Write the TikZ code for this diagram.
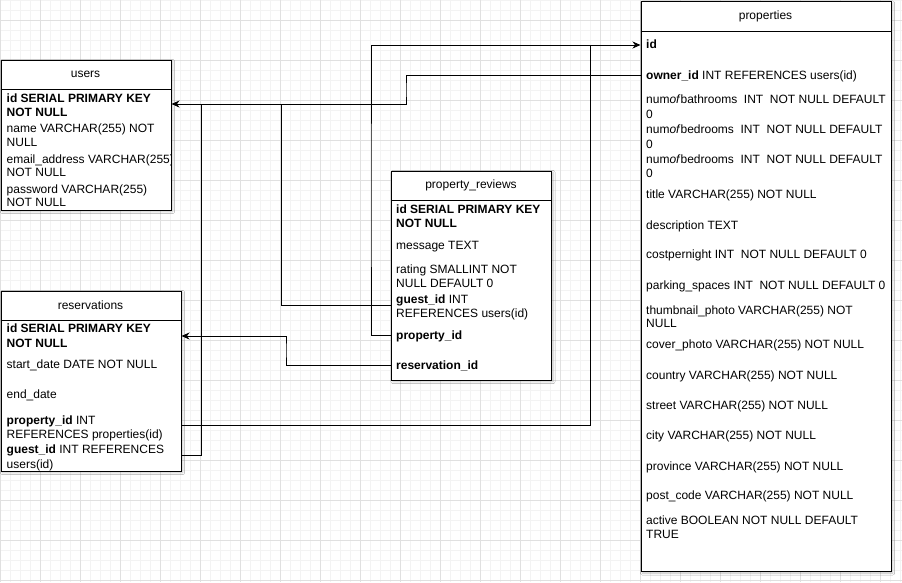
\documentclass[tikz,border=0pt]{standalone}
\usepackage{fontspec}
\setmainfont{Liberation Sans}
\usetikzlibrary{arrows.meta,shadows.blur}
\definecolor{gridminor}{HTML}{F3F3F3}
\definecolor{gridmajor}{HTML}{E0E0E0}
\begin{document}
\begin{tikzpicture}[x=1pt,y=-1pt,
  tbl/.style={draw=black,line width=1pt,fill=white,inner sep=0pt,anchor=north west,
    blur shadow={shadow xshift=1.5pt,shadow yshift=-1.5pt,shadow opacity=25,shadow blur steps=4}},
  hdr/.style={inner sep=0pt,anchor=center,font=\fontsize{12}{14}\selectfont},
  row/.style={inner sep=0pt,anchor=west,font=\fontsize{12}{14}\selectfont,text height=9.5pt,text depth=1pt},
  conn/.style={draw=black,line width=1pt},
  arr/.style={conn,-{Stealth[length=8pt,width=7pt,inset=2.5pt]}},
]
\useasboundingbox (0,0) rectangle (902,582);
\fill[white] (0,0) rectangle (902,582);
% grid
\foreach \x in {0,10,...,900} \draw[gridminor,line width=1pt] (\x,0) -- (\x,582);
\foreach \y in {0,10,...,580} \draw[gridminor,line width=1pt] (0,\y) -- (902,\y);
\foreach \x in {0,40,...,880} \draw[gridmajor,line width=1pt] (\x,0) -- (\x,582);
\foreach \y in {20,60,...,580} \draw[gridmajor,line width=1pt] (0,\y) -- (902,\y);

% ---------- boxes ----------
\node[tbl,minimum width=250pt,minimum height=570pt] (props) at (640.5,1) {};
\node[tbl,minimum width=170pt,minimum height=150pt] (users) at (0.5,59.5) {};
\node[tbl,minimum width=180pt,minimum height=180pt] (resv) at (0.5,290.5) {};
\node[tbl,minimum width=160pt,minimum height=209pt] (reviews) at (391,170.5) {};

\draw[line width=1pt] (props.west |- 0,31) -- (props.east |- 0,31);
\draw[line width=1pt] (users.west |- 0,89.5) -- (users.east |- 0,89.5);
\draw[line width=1pt] (resv.west |- 0,320.5) -- (resv.east |- 0,320.5);
\draw[line width=1pt] (reviews.west |- 0,200.5) -- (reviews.east |- 0,200.5);

\node[hdr] (propsT) at (765.5,16) {properties};
\node[hdr] (usersT) at (85.5,74.5) {users};
\node[hdr] (resvT) at (90.5,305.5) {reservations};
\node[hdr] (reviewsT) at (471,185.5) {property\_reviews};

% ---------- users rows ----------
\begin{scope}
\clip (0,89.5) rectangle (170,209.5);
\node[row] (uId1) at (6.5,98.3) {\textbf{id SERIAL PRIMARY KEY}};
\node[row] (uId2) at (6.5,112.7) {\textbf{NOT NULL}};
\node[row] (uName1) at (6.5,128.3) {name VARCHAR(255) NOT};
\node[row] (uName2) at (6.5,142.7) {NULL};
\node[row] (uMail1) at (6.5,159.3) {email\_address VARCHAR(255)};
\node[row] (uMail2) at (6.5,172.7) {NOT NULL};
\node[row] (uPw1) at (6.5,189.3) {password VARCHAR(255)};
\node[row] (uPw2) at (6.5,202.3) {NOT NULL};
\end{scope}

% ---------- reservations rows ----------
\node[row] (rsId1) at (6.5,328.3) {\textbf{id SERIAL PRIMARY KEY}};
\node[row] (rsId2) at (6.5,343.3) {\textbf{NOT NULL}};
\node[row] (rsStart) at (6.5,364.3) {start\_date DATE NOT NULL};
\node[row] (rsEnd) at (6.5,394.3) {end\_date};
\node[row] (rsProp1) at (6.5,420) {\textbf{property\_id} INT};
\node[row] (rsProp2) at (6.5,434) {REFERENCES properties(id)};
\node[row] (rsGuest1) at (6.5,449.3) {\textbf{guest\_id} INT REFERENCES};
\node[row] (rsGuest2) at (6.5,464.3) {users(id)};

% ---------- property_reviews rows ----------
\node[row] (rvId1) at (396,209.3) {\textbf{id SERIAL PRIMARY KEY}};
\node[row] (rvId2) at (396,223.3) {\textbf{NOT NULL}};
\node[row] (rvMsg) at (396,245) {message TEXT};
\node[row] (rvRate1) at (396,269.3) {rating SMALLINT NOT};
\node[row] (rvRate2) at (396,283.3) {NULL DEFAULT 0};
\node[row] (rvGuest1) at (396,299.3) {\textbf{guest\_id} INT};
\node[row] (rvGuest2) at (396,313.3) {REFERENCES users(id)};
\node[row] (rvProp) at (396,335) {\textbf{property\_id}};
\node[row] (rvRes) at (396,365) {\textbf{reservation\_id}};

% ---------- properties rows ----------
\node[row] (pId) at (646,44.5) {\textbf{id}};
\node[row] (pOwner) at (646,75) {\textbf{owner\_id} INT REFERENCES users(id)};
\node[row] (pBath1) at (646,99.3) {num\textit{of}bathrooms\ \ INT\ \ NOT NULL DEFAULT};
\node[row] (pBath2) at (646,114) {0};
\node[row] (pBed1) at (646,129.3) {num\textit{of}bedrooms\ \ INT\ \ NOT NULL DEFAULT};
\node[row] (pBed2) at (646,144) {0};
\node[row] (pBedb1) at (646,159) {num\textit{of}bedrooms\ \ INT\ \ NOT NULL DEFAULT};
\node[row] (pBedb2) at (646,173.3) {0};
\node[row] (pTitle) at (646,194) {title VARCHAR(255) NOT NULL};
\node[row] (pDesc) at (646,225) {description TEXT};
\node[row] (pCost) at (646,254.3) {costpernight INT\ \ NOT NULL DEFAULT 0};
\node[row] (pPark) at (646,285) {parking\_spaces INT\ \ NOT NULL DEFAULT 0};
\node[row] (pThumb1) at (646,310) {thumbnail\_photo VARCHAR(255) NOT};
\node[row] (pThumb2) at (646,323.3) {NULL};
\node[row] (pCover) at (646,344.3) {cover\_photo VARCHAR(255) NOT NULL};
\node[row] (pCountry) at (646,375) {country VARCHAR(255) NOT NULL};
\node[row] (pStreet) at (646,405.7) {street VARCHAR(255) NOT NULL};
\node[row] (pCity) at (646,435.7) {city VARCHAR(255) NOT NULL};
\node[row] (pProv) at (646,466) {province VARCHAR(255) NOT NULL};
\node[row] (pPost) at (646,495.7) {post\_code VARCHAR(255) NOT NULL};
\node[row] (pAct1) at (646,520) {active BOOLEAN NOT NULL DEFAULT};
\node[row] (pAct2) at (646,534) {TRUE};

% ---------- connectors ----------
% properties.owner_id -> users.id
\draw[arr] (props.west |- pOwner) -| (406,90) |- (users.east |- 0,104);
% property_reviews.property_id -> properties.id
\draw[arr] (reviews.west |- rvProp) -| (371,200) |- (props.west |- 0,45);
% reservations.property_id -> properties.id (joins)
\draw[conn] (resv.east |- 0,425) -| (590.5,45);
% reservations.guest_id -> users.id (joins)
\draw[conn] (resv.east |- 0,455) -| (201,104);
% property_reviews.guest_id -> users.id (joins)
\draw[conn] (reviews.west |- 0,305) -| (281,104);
% property_reviews.reservation_id -> reservations.id
\draw[arr] (reviews.west |- rvRes) -| (286,350) |- (resv.east |- 0,336);
\end{tikzpicture}
\end{document}
